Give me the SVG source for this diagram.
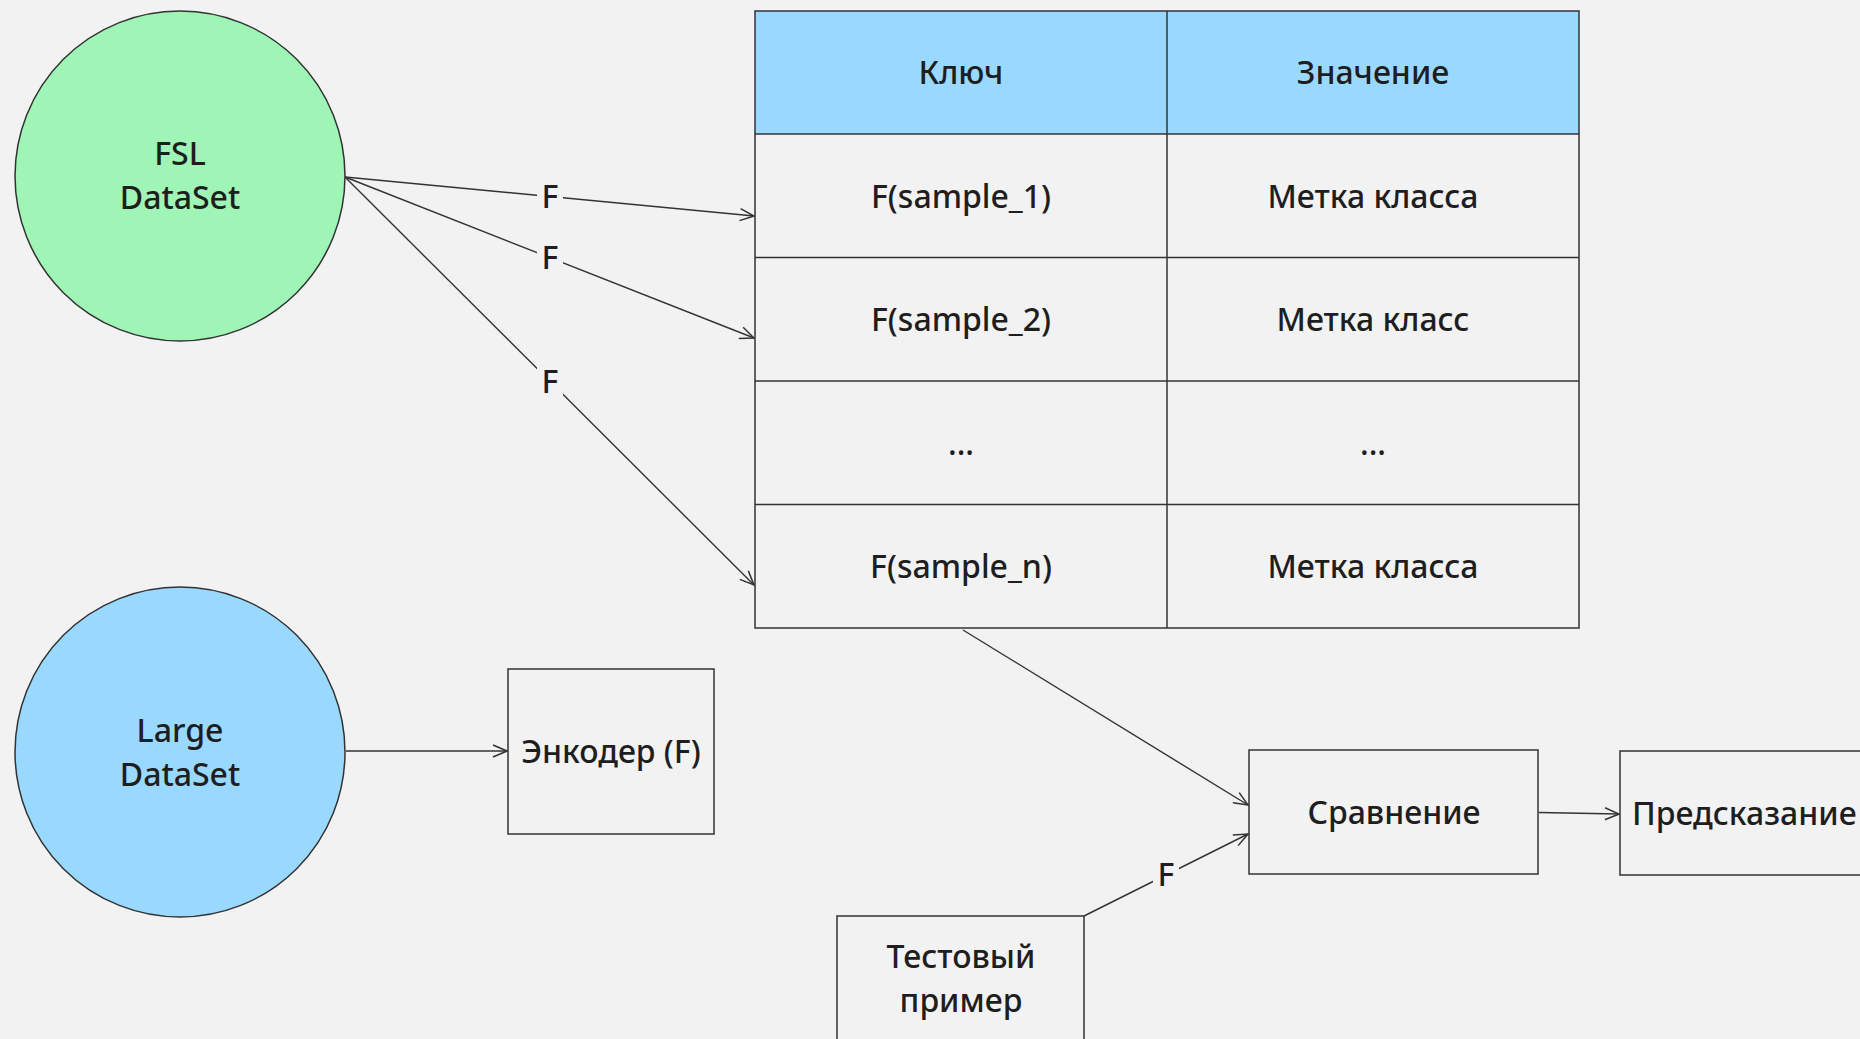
<svg xmlns="http://www.w3.org/2000/svg" width="1860" height="1039" viewBox="0 0 1860 1039">
  <style>
    .lbl { font-family: "Noto Sans", "Open Sans", sans-serif; font-size: 32px; font-weight: 500; fill: #1e1e1e; text-anchor: middle; dominant-baseline: central; }
    .shape { stroke: #333333; stroke-width: 1.5; }
    .box { fill: #f2f2f2; stroke: #333333; stroke-width: 1.5; }
    .edge { fill: none; stroke: #333333; stroke-width: 1.4; marker-end: url(#arrow); }
    .tag { fill: #f2f2f2; }
  </style>
  <defs>
    <marker id="arrow" viewBox="0 0 16 16" refX="15" refY="8" markerWidth="16" markerHeight="16" markerUnits="userSpaceOnUse" orient="auto">
      <path d="M1,2 L15,8 L1,14" fill="none" stroke="#333333" stroke-width="1.5"/>
    </marker>
  </defs>
  <rect x="0" y="0" width="1860" height="1039" fill="#f2f2f2"/>

  <!-- connectors -->
  <g id="connectors">
    <line class="edge" x1="345" y1="177" x2="754" y2="216"/>
    <line class="edge" x1="345" y1="177" x2="754" y2="338"/>
    <line class="edge" x1="345" y1="177" x2="754" y2="585"/>
    <line class="edge" x1="346" y1="751" x2="507" y2="751"/>
    <line class="edge" x1="963" y1="630" x2="1248" y2="805"/>
    <line class="edge" x1="1084" y1="916" x2="1248" y2="834"/>
    <line class="edge" x1="1539" y1="812.5" x2="1619" y2="814"/>
    <!-- edge labels -->
    <rect class="tag" x="537" y="177" width="26" height="38"/>
    <text class="lbl" x="550" y="195">F</text>
    <rect class="tag" x="537" y="238" width="26" height="38"/>
    <text class="lbl" x="550" y="256">F</text>
    <rect class="tag" x="537" y="362" width="26" height="38"/>
    <text class="lbl" x="550" y="380">F</text>
    <rect class="tag" x="1153" y="855" width="26" height="38"/>
    <text class="lbl" x="1166" y="873">F</text>
  </g>

  <g id="fsl-dataset">
    <circle class="shape" cx="180" cy="176" r="165" fill="#9ef5b5"/>
    <text class="lbl" x="180" y="152">FSL</text>
    <text class="lbl" x="180" y="196">DataSet</text>
  </g>

  <g id="large-dataset">
    <circle class="shape" cx="180" cy="752" r="165" fill="#99d9ff"/>
    <text class="lbl" x="180" y="729">Large</text>
    <text class="lbl" x="180" y="773">DataSet</text>
  </g>

  <g id="encoder">
    <rect class="box" x="508" y="669" width="206" height="165"/>
    <text class="lbl" x="611" y="750">Энкодер (F)</text>
  </g>

  <g id="table">
    <rect x="755" y="11" width="824" height="123" fill="#99d9ff" stroke="none"/>
    <rect x="755" y="134" width="824" height="494" fill="#f2f2f2" stroke="none"/>
    <g class="shape" fill="none">
      <rect x="755" y="11" width="824" height="617"/>
      <line x1="1167" y1="11" x2="1167" y2="628"/>
      <line x1="755" y1="134" x2="1579" y2="134"/>
      <line x1="755" y1="257.5" x2="1579" y2="257.5"/>
      <line x1="755" y1="381" x2="1579" y2="381"/>
      <line x1="755" y1="504.5" x2="1579" y2="504.5"/>
    </g>
    <text class="lbl" x="961" y="71">Ключ</text>
    <text class="lbl" x="1373" y="71">Значение</text>
    <text class="lbl" x="961" y="195">F(sample_1)</text>
    <text class="lbl" x="1373" y="195">Метка класса</text>
    <text class="lbl" x="961" y="318">F(sample_2)</text>
    <text class="lbl" x="1373" y="318">Метка класс</text>
    <text class="lbl" x="961" y="442">...</text>
    <text class="lbl" x="1373" y="442">...</text>
    <text class="lbl" x="961" y="565">F(sample_n)</text>
    <text class="lbl" x="1373" y="565">Метка класса</text>
  </g>

  <g id="compare">
    <rect class="box" x="1249" y="750" width="289" height="124"/>
    <text class="lbl" x="1394" y="811">Сравнение</text>
  </g>

  <g id="prediction">
    <rect class="box" x="1620" y="751" width="260" height="124"/>
    <text class="lbl" x="1632" y="812" style="text-anchor:start">Предсказание</text>
  </g>

  <g id="test-sample">
    <rect class="box" x="837" y="916" width="247" height="140"/>
    <text class="lbl" x="961" y="955">Тестовый</text>
    <text class="lbl" x="961" y="999">пример</text>
  </g>
</svg>
